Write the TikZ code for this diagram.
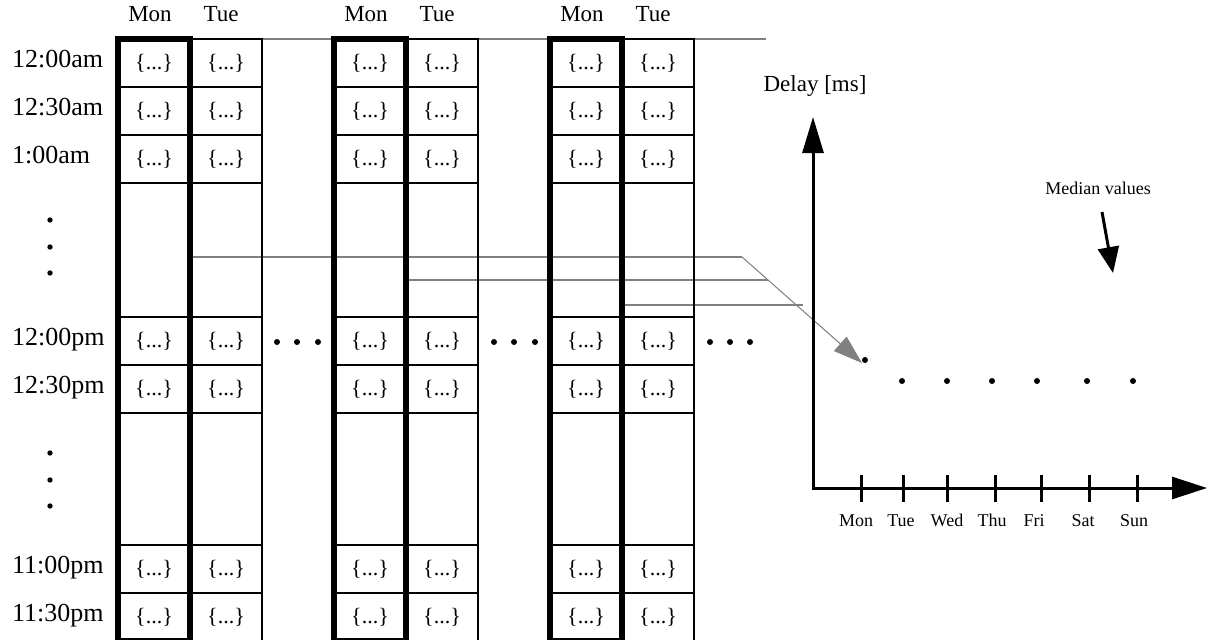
\documentclass[tikz,border=0pt]{standalone}
\usepackage{fontspec}
\setmainfont{Liberation Serif}
\usetikzlibrary{arrows.meta}
\begin{document}
\begin{tikzpicture}[x=1pt,y=-1pt,
  cellbox/.style={draw, line width=1.8pt, inner sep=0pt, minimum width=72pt, font=\fontsize{22}{26}\selectfont},
  thickcol/.style={draw, line width=6pt},
  timelab/.style={anchor=west, inner sep=0pt, text height=0.68em, text depth=0pt, font=\fontsize{26}{30}\selectfont},
  daylab/.style={inner sep=0pt, text height=0.68em, text depth=0pt, font=\fontsize{23}{27}\selectfont},
  ticklab/.style={inner sep=0pt, text height=0.68em, text depth=0pt, font=\fontsize{18}{22}\selectfont},
  hdot/.style={circle, fill, inner sep=0pt, minimum size=6pt},
  vdot/.style={circle, fill, inner sep=0pt, minimum size=5.4pt},
  pdot/.style={circle, fill, inner sep=0pt, minimum size=6pt},
  grayline/.style={draw=gray, line width=2pt},
  axis/.style={line width=3pt},
]
\useasboundingbox (0,0) rectangle (1208,640);

% gray connectors (behind the grid)
\coordinate (topend) at (766,39);
\coordinate (s1) at (190,257);
\coordinate (b1) at (742,257);
\coordinate (s2) at (406,280);
\coordinate (e2) at (768,280);
\coordinate (s3) at (622,305);
\coordinate (e3) at (803,305);
\coordinate (ptip) at (862,363);
\draw[grayline] (262,39) -- (topend);
\draw[grayline] (s1) -- (b1);
\draw[grayline] (s2) -- (e2);
\draw[grayline] (s3) -- (e3);
\draw[draw=gray, fill=gray, line width=1pt, -{Triangle[length=29pt,width=19pt]}] (b1) -- (ptip);

% grid
\foreach \g/\gx in {1/118,2/334,3/550}{
  \foreach \c in {1,2}{
    \foreach \r/\t/\b/\txt in {1/39/87/{\{...\}},2/87/135/{\{...\}},3/135/183/{\{...\}},4/183/317/{},5/317/365/{\{...\}},6/365/413/{\{...\}},7/413/545/{},8/545/593/{\{...\}},9/593/641/{\{...\}}}{
      \pgfmathsetmacro\cx{\gx+72*(\c-1)+36}
      \pgfmathsetmacro\cy{(\t+\b)/2}
      \pgfmathsetmacro\h{\b-\t}
      \node[cellbox, minimum height=\h pt] (c-\g-\c-\r) at (\cx,\cy) {\txt};
    }
  }
  \draw[thickcol] (\gx,39) rectangle (\gx+72,641);
  \node[daylab] (mon-\g) at (\gx+32,18) {Mon};
  \node[daylab] (tue-\g) at (\gx+103,18) {Tue};
}

% time labels
\node[timelab] (t1) at (12,64) {12:00am};
\node[timelab] (t2) at (12,112) {12:30am};
\node[timelab] (t3) at (12,160) {1:00am};
\node[timelab] (t4) at (12,342) {12:00pm};
\node[timelab] (t5) at (12,390) {12:30pm};
\node[timelab] (t6) at (12,570) {11:00pm};
\node[timelab] (t7) at (12,618) {11:30pm};

% vertical dots
\foreach \y [count=\i] in {220,247,273,453,480,506}
  \node[vdot] (vd-\i) at (50,\y) {};

% horizontal dots
\foreach \x [count=\i] in {277,297,318,494,514,535,710,730,750}
  \node[hdot] (hd-\i) at (\x,342) {};

% plot
\coordinate (ytop) at (813,117);
\coordinate (origin) at (813,488);
\coordinate (xend) at (1207,488);
\draw[axis, line join=miter, {Triangle[length=36pt,width=21pt]}-{Triangle[length=35pt,width=22pt]}] (ytop) -- (origin) -- (xend);
\foreach \x in {861,903,947,995,1041,1089,1137}
  \draw[axis] (\x,475) -- (\x,502);
\foreach \x/\d in {856/Mon,901/Tue,947/Wed,992/Thu,1034/Fri,1083/Sat,1134/Sun}
  \node[ticklab] (tl-\d) at (\x,523) {\d};
\node[daylab] (delay) at (815,88) {Delay [ms]};
\node[ticklab] (median) at (1098,191) {Median values};
\coordinate (mstart) at (1102,212);
\coordinate (mtip) at (1113,273);
\draw[line width=3pt, -{Triangle[length=26pt,width=21pt]}] (mstart) -- (mtip);
\foreach \x/\y [count=\i] in {865/360,902/381,947/381,992/381,1037/381,1087/381,1133/381}
  \node[pdot] (pd-\i) at (\x,\y) {};
\end{tikzpicture}
\end{document}
